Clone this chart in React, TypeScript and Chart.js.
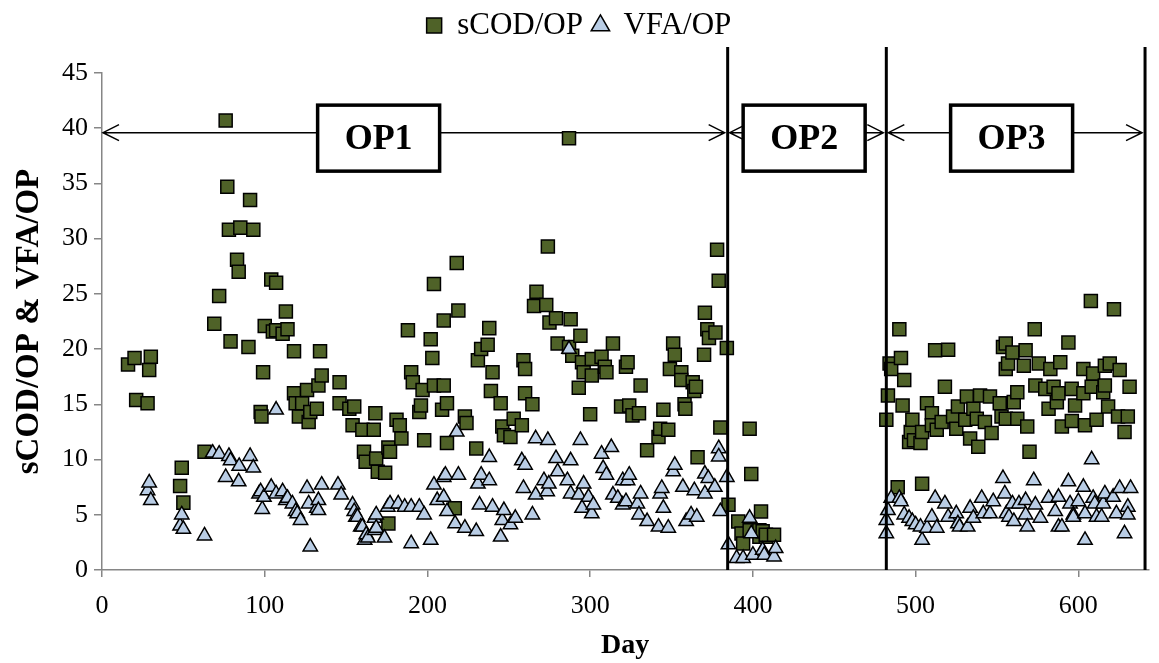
import React, { useEffect, useRef } from 'react';
import { Chart, registerables } from 'chart.js';

Chart.register(...registerables);

// ---- data ----
const scodDay = [
  16, 20, 21, 28, 29, 30, 48, 49, 50, 63, 69, 72, 76, 77, 78, 79, 83, 84, 85, 90, 91, 93,
  97.5, 98, 99, 100, 104, 105, 107, 107, 111, 113, 114, 118, 118, 119, 121, 123, 126, 127, 128,
  132, 133, 134, 135, 146, 146, 152, 154, 155, 160, 161, 162, 167, 168, 168.5, 169.5, 174, 176,
  176, 177, 181, 183, 184, 188, 190, 191, 195, 196, 197, 198, 202, 203, 204, 204, 209, 210, 210,
  212, 212, 216.8, 218, 219, 223, 224, 230, 231, 233, 237, 238, 239, 240, 245, 246, 247, 251,
  253, 258, 259, 260, 260, 264.5, 265.5, 267, 273, 274, 275, 279, 280, 287, 287, 288, 289, 293,
  294, 295, 296, 300, 301, 301, 307, 309, 310, 314, 319, 322, 323, 324, 326, 330, 331, 335, 342,
  343, 345, 348, 349, 351, 352, 356, 356, 358, 358.5, 363, 364, 365, 366, 370, 370.5, 372, 373,
  377, 378, 379, 380, 384, 385, 391, 393, 394, 398, 398, 399, 404, 404, 405, 406, 408, 408, 413,
  482, 483, 484, 485, 489, 490, 491, 492, 493, 496, 497, 498, 499, 503, 504, 504, 507, 510, 510,
  512, 513, 516, 518, 520, 523, 525, 526, 530.5, 531.5, 533.5, 535.5, 537.6, 538.5, 539.6, 542.6,
  545.7, 546.7, 551.7, 552.8, 553.7, 555.4, 555.4, 555.4, 556.8, 559.5, 560.3, 562.5, 562.5,
  566.5, 567.6, 568.6, 570, 573.2, 573.6, 575.7, 579.7, 581.7, 582.8, 584.8, 586.8, 587.8, 588.9,
  589.9, 593.9, 595.9, 596, 598, 603.1, 603.1, 604.1, 607.7, 608.2, 609.1, 611.2, 615.3, 616.3,
  616.3, 618.3, 619.3, 621.9, 624.4, 625.4, 628.4, 630.4, 631.5,
];
const scodVal = [
  18.6, 19.2, 15.4, 15.1, 18.1, 19.3, 7.6, 9.25, 6.1, 10.7, 22.3, 24.8, 40.7, 34.7, 30.8, 20.7, 28.1, 27.0, 31.0, 20.2, 33.5, 30.8,
  14.3, 13.9, 17.9, 22.1, 26.3, 21.6, 26.0, 21.7, 21.4, 23.4, 21.8, 19.8, 16.0, 15.1, 13.9, 15.1, 16.3, 13.4, 14.3,
  14.6, 16.7, 19.8, 17.6, 17.0, 15.1, 14.6, 13.1, 14.8, 12.7, 10.7, 9.8, 12.7, 14.2, 10.1, 8.9, 8.8, 4.2,
  11.1, 10.7, 13.6, 13.1, 11.9, 21.7, 17.9, 17.0, 14.3, 14.9, 16.3, 11.75, 20.9, 19.2, 25.9, 16.7, 14.5, 22.6, 16.7,
  15.1, 11.5, 5.6, 27.8, 23.5, 13.9, 13.3, 11.0, 19.0, 20.0, 20.4, 21.9, 16.2, 17.9, 15.1, 13.0, 12.2, 12.05,
  13.7, 13.1, 19.0, 18.2, 16.0, 15.0, 23.9, 25.2, 24.0, 29.3, 22.4, 22.8, 20.5, 39.1, 20.2, 22.7, 19.4, 16.5,
  21.2, 18.8, 17.9, 14.1, 19.1, 17.6, 19.3, 18.4, 17.9, 20.5, 14.8, 18.4, 18.8, 14.9, 14.0, 14.2, 16.7, 10.85, 12.05,
  12.8, 14.5, 12.7, 18.2, 20.5, 19.5, 17.9, 17.2, 15.0, 14.6, 17.0, 16.2, 16.6, 10.2, 19.5, 23.3, 21.8, 21.0,
  21.5, 29.0, 26.2, 12.9, 20.1, 5.9, 4.4, 3.3, 2.4, 12.8, 3.6, 8.7, 3.0, 3.6, 5.3, 3.5, 3.0, 3.2, 3.2,
  13.6, 15.8, 18.7, 18.2, 7.5, 21.8, 19.2, 14.9, 17.2, 11.6, 12.5, 13.6, 11.75, 11.5, 7.8, 12.5, 15.1, 14.2, 13.1,
  19.9, 12.7, 13.4, 16.6, 19.95, 13.9, 12.8, 14.8, 13.6, 15.7, 11.9, 14.6, 13.7, 11.15, 15.8, 13.4,
  15.7, 12.4, 15.1, 13.9, 20.2, 20.5, 18.2, 13.7, 18.7, 19.7, 15.2, 16.1, 13.7,
  18.5, 19.9, 13.0, 10.7, 21.8, 16.7, 18.7, 16.4, 14.6, 18.2, 16.6, 15.2, 16.0, 18.8,
  13.0, 20.6, 16.4, 13.5, 14.9, 18.2, 16.0, 13.1, 24.35, 16.6, 17.8, 13.6, 16.1, 18.5,
  16.7, 14.8, 18.7, 23.6, 13.9, 18.1, 12.5, 13.9, 16.6,
];
const vfaDay = [
  28, 29, 30, 48, 49, 50, 63, 68, 72, 76, 78, 79, 84, 84.3, 91, 93, 96.5, 97.5, 98.5, 99.5, 104,
  107, 107, 111, 113, 114, 117, 119, 120, 122, 126, 127, 128, 132, 133, 133, 135, 145, 147, 154,
  155, 156, 157, 159, 160, 161.4, 162.4, 163.4, 167.5, 167.5, 168.5, 168.5, 173.6, 175.6, 177,
  182, 186, 190, 190, 195, 198, 202, 204, 206, 210, 210, 211, 212, 217, 218, 219, 223, 230, 231,
  232, 233, 238, 238, 240, 245, 246, 247, 251, 254, 258, 259, 260, 264.5, 266.5, 266.5, 271.6,
  273.6, 274, 274.6, 279, 280, 286, 287, 288, 288, 293, 294, 295, 296, 299, 301, 302, 307, 308,
  310, 313, 314, 317, 320, 320, 322, 323, 324, 329, 330, 331, 335, 342, 343, 344, 345, 348, 351,
  352, 357, 359, 362, 364, 365.5, 370.5, 370.5, 372.6, 376.6, 379, 379, 380, 384, 385, 390, 394,
  398, 399, 400, 406, 407, 413, 414,
  482, 482, 483, 485, 490, 491, 493, 496, 498, 500, 503, 504, 507, 510, 512, 513, 518, 520, 525,
  526, 527, 532, 533.5, 535.5, 540.6, 541.6, 545.7, 547.7, 553.7, 554.8, 555.8, 557.4, 559.5,
  560.4, 563.5, 567.6, 567.6, 568.6, 572.6, 573.6, 576.7, 581.7, 585.8, 587.8, 587.8, 589.9,
  593.9, 594.9, 596.9, 596.9, 600, 603.1, 604.1, 604.1, 608.2, 609.1, 610.1, 611.2, 614.3, 615.3,
  616.3, 621.4, 623.4, 625.4, 628.4, 630.4, 630.4, 632.1,
];
const vfaVal = [
  7.2, 7.9, 6.3, 4.0, 5.0, 3.7, 3.1, 10.6, 10.5, 8.4, 10.3, 9.9, 8.0, 9.4, 10.3, 9.25, 6.9, 7.1, 5.5, 6.6, 7.5,
  6.9, 14.5, 7.1, 6.3, 6.5, 6.0, 5.3, 5.1, 4.5, 7.4, 6.0, 2.1, 5.6, 6.3, 5.4, 7.7, 7.7, 6.8, 5.9,
  5.3, 4.8, 4.8, 3.9, 3.9, 2.7, 3.2, 2.9, 3.6, 4.7, 5.0, 3.8, 2.9, 5.7, 6.0,
  6.0, 5.7, 5.7, 2.4, 5.7, 5.0, 2.7, 7.7, 6.3, 8.4, 6.6, 8.6, 5.3, 4.2, 12.5, 8.6, 3.8, 3.5, 7.8,
  5.9, 8.6, 8.1, 10.2, 5.7, 3.0, 4.5, 5.4, 4.1, 4.7, 9.9, 7.4, 9.5, 5.0, 6.8, 11.9, 8.1,
  7.1, 11.75, 7.8, 10.1, 8.9, 8.1, 20.0, 9.9, 6.9, 6.8, 11.75, 5.6, 7.8, 6.6, 5.1, 5.9, 10.5, 9.2,
  8.6, 11.1, 6.8, 6.5, 8.1, 5.9, 6.2, 8.1, 8.6, 6.0, 5.0, 6.9, 4.4, 3.9, 6.9, 7.4, 5.6, 3.8, 8.9,
  9.5, 7.5, 4.4, 5.0, 7.2, 4.8, 8.7, 6.9, 8.3, 7.5, 11.0, 10.25, 5.3, 8.4, 2.3, 1.06, 1.06,
  4.7, 3.3, 1.36, 1.8, 1.36, 1.2, 1.96,
  3.3, 4.5, 5.4, 6.5, 6.5, 6.2, 5.0, 4.7, 4.4, 4.1, 3.9, 2.7, 3.8, 4.8, 6.5, 3.8, 6.0, 4.8, 5.1,
  4.2, 3.9, 3.9, 5.6, 4.7, 6.5, 5.1, 5.1, 6.2, 8.3, 6.9, 5.1, 4.8, 6.0,
  4.4, 6.0, 6.3, 5.0, 3.9, 8.1, 5.9, 4.7, 6.5, 5.3, 6.6, 3.9, 3.9,
  8.0, 6.0, 5.0, 4.8, 6.2, 7.5, 5.1, 2.7, 10.0, 6.5, 6.0, 4.8, 4.8, 6.0,
  6.9, 6.6, 5.1, 7.4, 3.3, 5.7, 5.0, 7.4,
];

const seriesNames = ['sCOD/OP', 'VFA/OP'];
const xAxisMax = 643;
const xTickStep = 100;
const yTickValues = [0, 5, 10, 15, 20, 25, 30, 35, 40, 45];

// operating periods
const phaseLabels = ['OP1', 'OP2', 'OP3'];
const phaseStart = [0, 384.5, 482];
const phaseEnd = [384.5, 482, 641];
const phaseLabelDay = [170, 431.5, 559];
const phaseDividers = [384.5, 482, 641];
const arrowLevel = 39.6;

const SERIF = "'Liberation Serif', 'Times New Roman', serif";

const phasePlugin = {
  id: 'phases',
  beforeDatasetsDraw(chart: any) {
    const { ctx, scales } = chart;
    const x = scales.x;
    const y = scales.y;
    const ay = y.getPixelForValue(arrowLevel);
    ctx.save();
    ctx.strokeStyle = '#000';
    phaseLabels.forEach((lab, i) => {
      const x0 = x.getPixelForValue(phaseStart[i]) + (i === 0 ? 1 : 2);
      const x1 = x.getPixelForValue(phaseEnd[i]) - 3;
      ctx.lineWidth = 1.5;
      ctx.beginPath();
      ctx.moveTo(x0, ay);
      ctx.lineTo(x1, ay);
      ctx.moveTo(x0 + 16, ay - 8);
      ctx.lineTo(x0, ay);
      ctx.lineTo(x0 + 16, ay + 8);
      ctx.moveTo(x1 - 16, ay - 8);
      ctx.lineTo(x1, ay);
      ctx.lineTo(x1 - 16, ay + 8);
      ctx.stroke();
      const cx = x.getPixelForValue(phaseLabelDay[i]);
      const cy = ay + 5.5;
      const w = 122;
      const h = 66;
      ctx.fillStyle = '#fff';
      ctx.fillRect(cx - w / 2, cy - h / 2, w, h);
      ctx.lineWidth = 3.5;
      ctx.strokeRect(cx - w / 2, cy - h / 2, w, h);
      ctx.fillStyle = '#000';
      ctx.font = `bold 36px ${SERIF}`;
      ctx.textAlign = 'center';
      ctx.textBaseline = 'middle';
      ctx.fillText(lab, cx, cy + 2);
    });
    ctx.restore();
  },
  afterDatasetsDraw(chart: any) {
    const { ctx, chartArea, scales } = chart;
    const x = scales.x;
    ctx.save();
    ctx.strokeStyle = '#000';
    ctx.lineWidth = 3;
    phaseDividers.forEach((d) => {
      const px = x.getPixelForValue(d);
      ctx.beginPath();
      ctx.moveTo(px, chartArea.top - 26);
      ctx.lineTo(px, chartArea.bottom);
      ctx.stroke();
    });
    ctx.restore();
  },
};

const legendSpace = {
  id: 'legendSpace',
  beforeInit(chart: any) {
    const lg = chart.legend;
    if (!lg) return;
    const orig = lg.fit;
    lg.fit = function () {
      orig.call(this);
      this.height = 73;
    };
  },
};

export default function App() {
  const ref = useRef<HTMLCanvasElement | null>(null);
  useEffect(() => {
    if (!ref.current) return;
    const toPts = (xs: number[], ys: number[]) => xs.map((d, i) => ({ x: d, y: ys[i] }));
    const chart = new Chart(ref.current, {
      type: 'scatter',
      data: {
        datasets: [
          {
            label: seriesNames[0],
            data: toPts(scodDay, scodVal),
            pointStyle: 'rect',
            pointRadius: 9.2,
            pointHoverRadius: 9.2,
            backgroundColor: '#4F6228',
            borderColor: '#000',
            borderWidth: 1.5,
            order: 2,
          },
          {
            label: seriesNames[1],
            data: toPts(vfaDay, vfaVal),
            pointStyle: 'triangle',
            pointRadius: 8.3,
            pointHoverRadius: 8.3,
            backgroundColor: '#B9CDE5',
            borderColor: '#000',
            borderWidth: 1.5,
            order: 1,
          },
        ],
      },
      options: {
        animation: false,
        responsive: false,
        devicePixelRatio: 1,
        layout: { padding: { top: 0, right: 1, bottom: 0, left: 0 } },
        plugins: {
          legend: {
            display: true,
            position: 'top',
            labels: {
              usePointStyle: true,
              boxWidth: 15,
              boxHeight: 15,
              padding: 10,
              color: '#000',
              font: { family: SERIF, size: 31 },
              sort: (a: any, b: any) => a.datasetIndex - b.datasetIndex,
            },
          },
          tooltip: { enabled: false },
        },
        scales: {
          x: {
            type: 'linear',
            min: 0,
            max: xAxisMax,
            afterFit: (s: any) => {
              s.height = 93;
            },
            grid: {
              display: true,
              drawOnChartArea: false,
              drawTicks: true,
              tickLength: 7,
              color: '#868686',
              lineWidth: 1.5,
            },
            border: { display: true, color: '#868686', width: 1.5 },
            ticks: {
              stepSize: xTickStep,
              includeBounds: false,
              color: '#000',
              padding: 14,
              maxRotation: 0,
              font: { family: SERIF, size: 26 },
            },
            title: {
              display: true,
              text: 'Day',
              color: '#000',
              font: { family: SERIF, size: 28, weight: 'bold' },
              padding: { top: 0, bottom: 0 },
            },
          },
          y: {
            type: 'linear',
            min: 0,
            max: 45,
            afterFit: (s: any) => {
              s.width = 102;
            },
            afterBuildTicks: (s: any) => {
              s.ticks = yTickValues.map((v) => ({ value: v }));
            },
            grid: {
              display: true,
              drawOnChartArea: false,
              drawTicks: true,
              tickLength: 8,
              color: '#868686',
              lineWidth: 1.5,
            },
            border: { display: true, color: '#868686', width: 1.5 },
            ticks: {
              color: '#000',
              padding: 6,
              font: { family: SERIF, size: 26 },
            },
            title: {
              display: true,
              text: 'sCOD/OP & VFA/OP',
              color: '#000',
              font: { family: SERIF, size: 33, weight: 'bold' },
              padding: { top: 10, bottom: 0 },
            },
          },
        },
      },
      plugins: [legendSpace, phasePlugin],
    } as any);
    return () => chart.destroy();
  }, []);

  return (
    <div style={{ position: 'fixed', left: 0, top: 0, width: 1159, height: 663, background: '#fff' }}>
      <canvas ref={ref} width={1159} height={663} style={{ display: 'block', width: 1159, height: 663 }} />
    </div>
  );
}
